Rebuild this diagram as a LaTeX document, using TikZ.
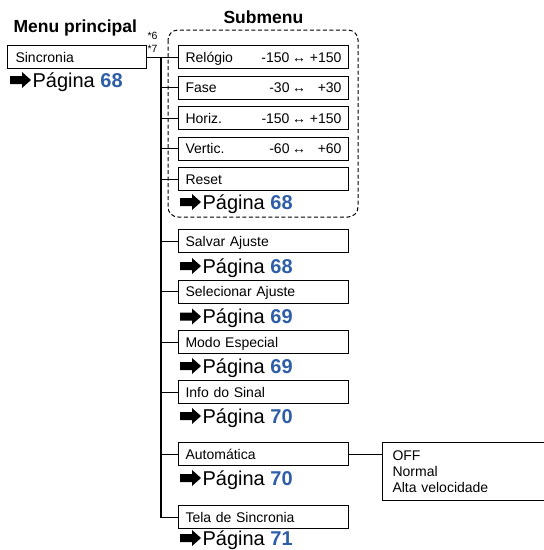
\documentclass[tikz,border=0pt]{standalone}
\usepackage{fontspec}
\setmainfont{Liberation Sans}
\usetikzlibrary{positioning}
\definecolor{azul}{RGB}{46,94,168}
\tikzset{
  caixa/.style={draw, line width=1.1pt, anchor=north west, inner xsep=7pt, align=left,
    font=\fontsize{14}{16}\selectfont},
  item/.style={caixa, minimum height=23pt, text width=156pt, text height=10pt, text depth=0pt},
  pag/.style={anchor=base west, inner sep=0pt, font=\fontsize{20}{22}\selectfont},
  titulo/.style={anchor=base west, inner sep=0pt, font=\fontsize{17.5}{20}\selectfont\bfseries},
  nota/.style={anchor=base west, inner sep=0pt, font=\fontsize{10.5}{12}\selectfont},
  seta/.pic={\fill (0,-4) -- (12,-4) -- (12,-8) -- (21,0) -- (12,8) -- (12,4) -- (0,4) -- cycle;}
}
\newcommand{\vals}[2]{\hfill\makebox[28pt][r]{#1}\hspace{3pt}\makebox[13pt]{↔}\hspace{4pt}\makebox[32pt][r]{#2}}
\newcommand{\pg}[1]{Página \textbf{\color{azul}#1}}
\begin{document}
\begin{tikzpicture}[x=1pt, y=-1pt, line width=1.1pt]
  \useasboundingbox (0,0) rectangle (544,550);
  % titles
  \node[titulo] (tmenu) at (13,32) {Menu principal};
  \node[titulo] (tsub) at (223,23) {Submenu};
  \node[nota] (n6) at (147,39) {*6};
  \node[nota] (n7) at (147,52) {*7};
  % main menu
  \node[item, text width=123pt, inner xsep=8pt] (sinc) at (7,45) {Sincronia};
  \node[pag] (p0) at (32,87) {\pg{68}};
  % submenu frame
  \draw[line width=1pt, rounded corners=10pt, dash pattern=on 4pt off 2.5pt]
    (168,30) rectangle (358,217);
  % submenu items
  \node[item] (relogio) at (178,45) {Relógio\vals{-150}{+150}};
  \node[item] (fase) at (178,75.5) {Fase\vals{-30}{+30}};
  \node[item] (horiz) at (178,106) {Horiz.\vals{-150}{+150}};
  \node[item] (vertic) at (178,136.5) {Vertic.\vals{-60}{+60}};
  \node[item] (reset) at (178,167) {Reset};
  \node[pag] (p1) at (202,209) {\pg{68}};
  \node[item] (salvar) at (178,229) {Salvar Ajuste};
  \node[pag] (p2) at (202,273) {\pg{68}};
  \node[item] (selec) at (178,279.5) {Selecionar Ajuste};
  \node[pag] (p3) at (202,323.5) {\pg{69}};
  \node[item] (modo) at (178,330) {Modo Especial};
  \node[pag] (p4) at (202,373) {\pg{69}};
  \node[item] (info) at (178,380) {Info do Sinal};
  \node[pag] (p5) at (202,423) {\pg{70}};
  \node[item] (auto) at (178,442) {Automática};
  \node[pag] (p6) at (202,485) {\pg{70}};
  \node[item] (tela) at (178,505) {Tela de Sincronia};
  \node[pag] (p7) at (202,545) {\pg{71}};
  % options
  \node[caixa, minimum height=58pt, text width=190pt, inner xsep=10pt] (opc) at (382,442)
    {OFF\\Normal\\Alta velocidade};
  % arrows before page refs
  \foreach \p in {p0,p1,p2,p3,p4,p5,p6,p7}
    \pic at ([shift={(-22,-7)}]\p.base west) {seta};
  % connectors
  \coordinate (t) at (161,0);
  \draw (sinc.east) -- (relogio.west);
  \draw (t |- sinc.east) |- (tela.west);
  \draw (t |- fase.west) -- (fase.west);
  \draw (t |- horiz.west) -- (horiz.west);
  \draw (t |- vertic.west) -- (vertic.west);
  \draw (t |- reset.west) -- (reset.west);
  \draw (t |- salvar.west) -- (salvar.west);
  \draw (t |- selec.west) -- (selec.west);
  \draw (t |- modo.west) -- (modo.west);
  \draw (t |- info.west) -- (info.west);
  \draw (t |- auto.west) -- (auto.west);
  \draw (auto.east) -- (auto.east -| opc.west);
\end{tikzpicture}
\end{document}
